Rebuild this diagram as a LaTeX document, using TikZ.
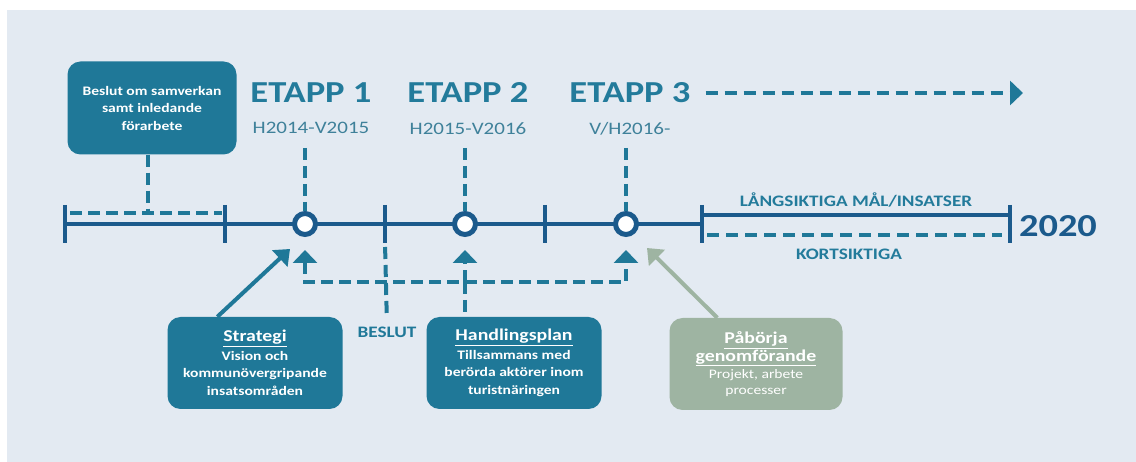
\documentclass[tikz,border=0pt]{standalone}
\usepackage{fontspec}
\setmainfont{Carlito}[FakeStretch=1.2]
\usetikzlibrary{arrows.meta, positioning}

\definecolor{panelbg}{HTML}{E3EAF2}
\definecolor{boxteal}{HTML}{1F7898}
\definecolor{linedark}{HTML}{1B5A8C}
\definecolor{etappteal}{HTML}{237B9B}
\definecolor{datumteal}{HTML}{3F819A}
\definecolor{sage}{HTML}{9EB4A2}

\begin{document}
\begin{tikzpicture}[x=1pt, y=-1pt,
    box/.style={rectangle, rounded corners=13pt, fill=boxteal, text=white, align=center, minimum width=175pt, minimum height=92pt, inner sep=2pt, font=\bfseries\fontsize{13}{17.5}\selectfont},
    milestone/.style={circle, draw=linedark, line width=5pt, fill=white, minimum size=21pt, inner sep=0pt},
    etapp/.style={inner sep=0pt, text=etappteal, font=\bfseries\fontsize{30.5}{32}\selectfont},
    datum/.style={inner sep=0pt, text=datumteal, font=\fontsize{17.5}{20}\selectfont},
    caption/.style={inner sep=0pt, text=etappteal, font=\bfseries\fontsize{16}{18}\selectfont},
    mainline/.style={draw=linedark, line width=4pt},
    tickmark/.style={draw=linedark, line width=4pt},
    dashline/.style={draw=boxteal, line width=4pt, dash pattern=on 12pt off 6pt},
    tip/.style={-{Triangle[length=13pt, width=24pt]}},
    pointer/.style={line width=4pt, -{Triangle[length=14pt, width=22pt]}}
]

    % Background panel
    \useasboundingbox (0,0) rectangle (1136,462);
    \fill[white] (0,0) rectangle (1136,462);
    \fill[panelbg] (7,10) rectangle (1136,462);

    % Timeline
    \foreach \x/\n in {65/t0, 225/t1, 385/t2, 545/t3, 702/t4}
        \coordinate (\n) at (\x,224);
    \coordinate (t5) at (1010,224);
    \draw[mainline] (t0) -- (t4);
    \draw[mainline] ([yshift=9pt]t4) -- ([yshift=9pt]t5);
    \foreach \n in {t0, t1, t2, t3, t4, t5}
        \draw[tickmark] ([yshift=19pt]\n) -- ([yshift=-19pt]\n);
    \node[milestone] (m1) at (305,224) {};
    \node[milestone] (m2) at (465,224) {};
    \node[milestone] (m3) at (626,224) {};

    % Start: decision box
    \node[box, minimum width=169pt, minimum height=93pt] (beslut) at (152,108) {Beslut om samverkan\\samt inledande\\förarbete};
    \draw[dashline] ([xshift=5pt,yshift=11pt]t0) -- ([xshift=-3pt,yshift=11pt]t1);
    \draw[dashline] ([xshift=-4pt]beslut.south) -- ([xshift=-4pt]beslut.south |- 0,213);

    % Stages
    \node[etapp] (e1) at (311,93) {ETAPP 1};
    \node[datum, below=19pt of e1] (d1) {H2014-V2015};
    \node[etapp] (e2) at (468,93) {ETAPP 2};
    \node[datum, below=19pt of e2] (d2) {H2015-V2016};
    \node[etapp] (e3) at (630,93) {ETAPP 3};
    \node[datum, below=19pt of e3] (d3) {V/H2016-};
    \foreach \m in {m1, m2, m3}
        \draw[dashline] (\m |- 0,148) -- (\m.north);
    \coordinate (goal) at (1023,93);
    \draw[dashline, tip, dash pattern=on 12pt off 7pt] ([xshift=15pt]e3.east) -- (goal);

    % Long and short term
    \node[caption] (lang) at (856,200) {LÅNGSIKTIGA MÅL/INSATSER};
    \node[caption] (kort) at (849,254) {KORTSIKTIGA};
    \draw[dashline, dash pattern=on 12pt off 7pt] ([xshift=5pt,yshift=-11pt]t4) -- ([xshift=-8pt,yshift=-11pt]t5);
    \node[inner sep=0pt, text=linedark, font=\bfseries\fontsize{32}{34}\selectfont] (year) at (1058,226) {2020};

    % Lower boxes
    \node[box] (strategi) at (255,363) {{\fontsize{16.5}{19}\selectfont\underline{Strategi}}\\[1pt]Vision och\\kommunövergripande\\insatsområden};
    \node[box] (handling) at (514,363) {{\fontsize{16.5}{19}\selectfont\underline{Handlingsplan}}\\[1pt]Tillsammans med\\berörda aktörer inom\\turistnäringen};
    \node[box, fill=sage, minimum width=173pt, font=\fontsize{13}{16}\selectfont] (paborja) at (756,364) {{\bfseries\fontsize{16.5}{19}\selectfont\underline{Påbörja}}\\{\bfseries\fontsize{16.5}{19}\selectfont\underline{genomförande}}\\[1pt]Projekt, arbete\\processer};
    \node[caption, text=boxteal] (beslutlbl) at (387,332) {BESLUT};

    % Feedback connectors
    \coordinate (j1) at (m1 |- 0,282);
    \coordinate (j2) at (m2 |- 0,282);
    \coordinate (j3) at (m3 |- 0,282);
    \draw[dashline, {Triangle[length=13pt, width=24pt]}-{Triangle[length=13pt, width=24pt]}, shorten <=13pt, shorten >=13pt] (m1.south) -- (j1) -- (j3) -- (m3.south);
    \draw[dashline, tip, shorten >=13pt] (j2) -- (m2.south);
    \draw[dashline, shorten >=5pt] (j2) -- (j2 |- handling.north);
    \draw[dashline, shorten <=4pt, shorten >=11pt] ([yshift=-19pt]t2) -- (beslutlbl.north);
    \coordinate (aim1) at (290,249);
    \coordinate (aim3) at (647,248);
    \draw[pointer, draw=boxteal, fill=boxteal] ([xshift=50pt]strategi.north west) -- (aim1);
    \draw[pointer, draw=sage, fill=sage] ([xshift=48pt]paborja.north west) -- (aim3);

\end{tikzpicture}
\end{document}
